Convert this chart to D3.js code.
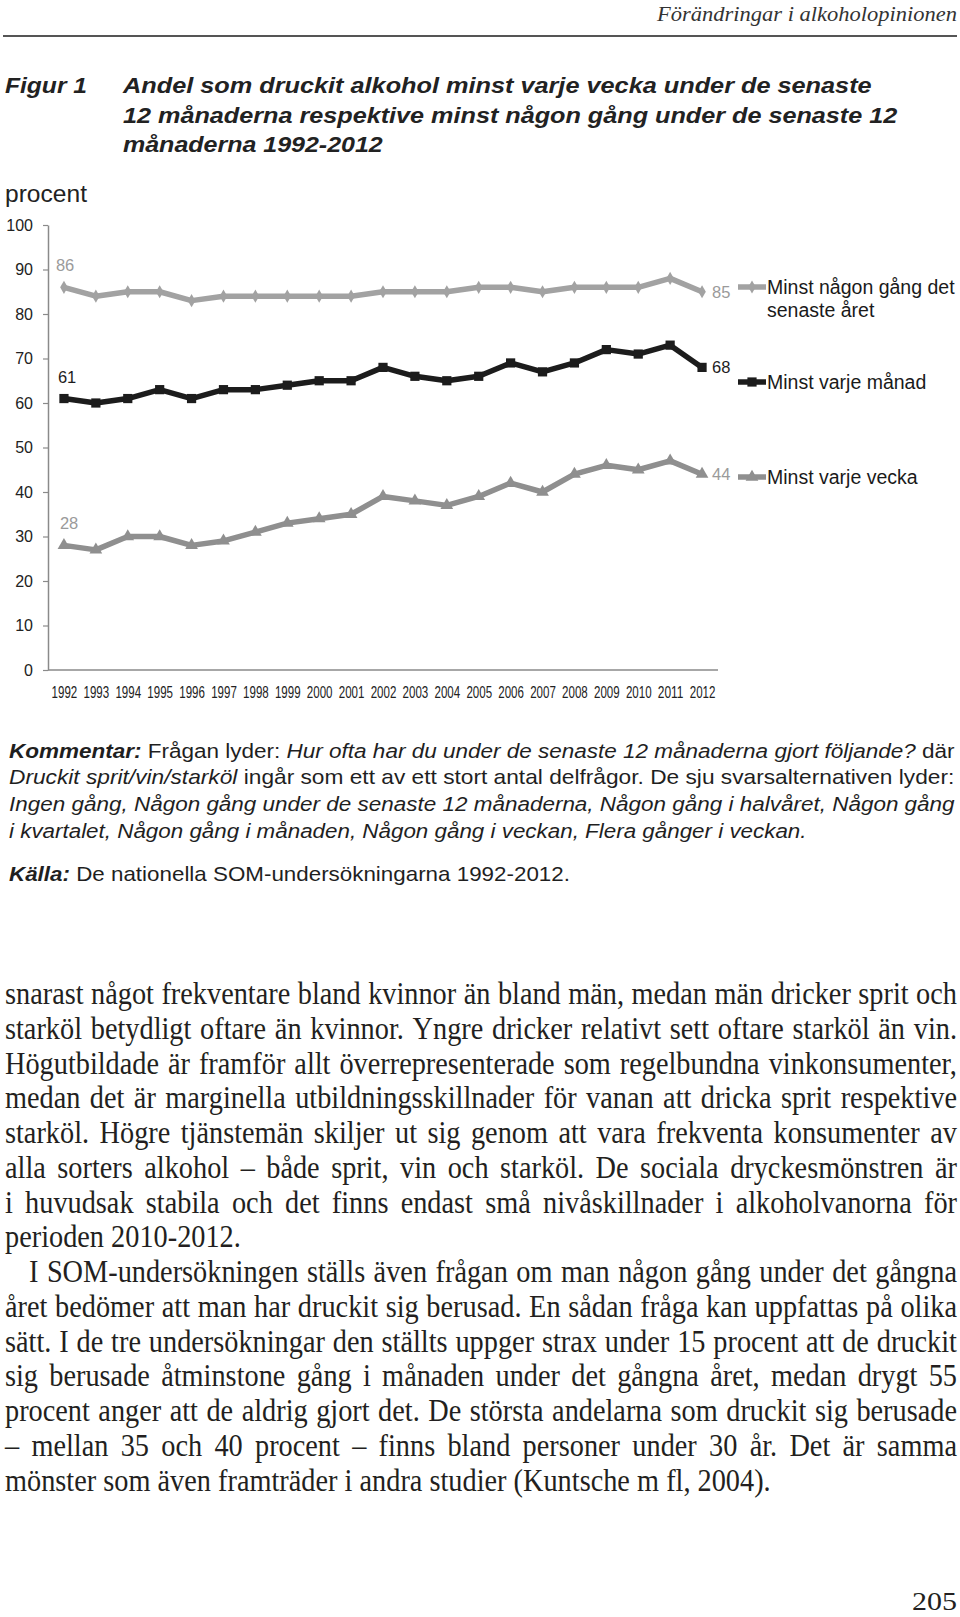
<!DOCTYPE html>
<html><head><meta charset="utf-8">
<script src="https://cdn.jsdelivr.net/npm/d3@7"></script>
<style>body{margin:0;background:#fff} svg{display:block}</style>
</head><body>
<svg id="c" width="960" height="1617"></svg>
<script>
// ---------- data ----------
const years = ["1992","1993","1994","1995","1996","1997","1998","1999","2000","2001","2002","2003","2004","2005","2006","2007","2008","2009","2010","2011","2012"];
const annual  = [86,84,85,85,83,84,84,84,84,84,85,85,85,86,86,85,86,86,86,88,85];
const monthly = [61,60,61,63,61,63,63,64,65,65,68,66,65,66,69,67,69,72,71,73,68];
const weekly  = [28,27,30,30,28,29,31,33,34,35,39,38,37,39,42,40,44,46,45,47,44];
const yTicks  = [0,10,20,30,40,50,60,70,80,90,100];
const legendLabels = [["Minst någon gång det","senaste året"],["Minst varje månad"],["Minst varje vecka"]];

const headerText = "Förändringar i alkoholopinionen";
const figLabel = "Figur 1";
const titleLines = ["Andel som druckit alkohol minst varje vecka under de senaste","12 månaderna respektive minst någon gång under de senaste 12","månaderna 1992-2012"];
const yTitle = "procent";
const commentLines = [
  [["bi","Kommentar:"],["r"," Frågan lyder: "],["i","Hur ofta har du under de senaste 12 månaderna gjort följande?"],["r"," där"]],
  [["i","Druckit sprit/vin/starköl"],["r"," ingår som ett av ett stort antal delfrågor. De sju svarsalternativen lyder:"]],
  [["i","Ingen gång, Någon gång under de senaste 12 månaderna, Någon gång i halvåret, Någon gång"]],
  [["i","i kvartalet, Någon gång i månaden, Någon gång i veckan, Flera gånger i veckan."]],
  [["bi","Källa:"],["r"," De nationella SOM-undersökningarna 1992-2012."]]
];
const bodyLines = [
  "snarast något frekventare bland kvinnor än bland män, medan män dricker sprit och",
  "starköl betydligt oftare än kvinnor. Yngre dricker relativt sett oftare starköl än vin.",
  "Högutbildade är framför allt överrepresenterade som regelbundna vinkonsumenter,",
  "medan det är marginella utbildningsskillnader för vanan att dricka sprit respektive",
  "starköl. Högre tjänstemän skiljer ut sig genom att vara frekventa konsumenter av",
  "alla sorters alkohol – både sprit, vin och starköl. De sociala dryckesmönstren är",
  "i huvudsak stabila och det finns endast små nivåskillnader i alkoholvanorna för",
  "perioden 2010-2012.",
  "I SOM-undersökningen ställs även frågan om man någon gång under det gångna",
  "året bedömer att man har druckit sig berusad. En sådan fråga kan uppfattas på olika",
  "sätt. I de tre undersökningar den ställts uppger strax under 15 procent att de druckit",
  "sig berusade åtminstone gång i månaden under det gångna året, medan drygt 55",
  "procent anger att de aldrig gjort det. De största andelarna som druckit sig berusade",
  "– mellan 35 och 40 procent – finns bland personer under 30 år. Det är samma",
  "mönster som även framträder i andra studier (Kuntsche m fl, 2004)."
];
const bodyLast = [7, 14];   // last lines of paragraphs (not justified)
const bodyIndent = [8];
const pageNumber = "205";

// ---------- setup ----------
const svg = d3.select("#c");
const SANS = "'Liberation Sans', Arial, sans-serif";
const SERIF = "'Liberation Serif', 'Times New Roman', serif";

function fit(t, x, y, target){
  const w = t.node().getComputedTextLength();
  const k = target / w;
  t.attr("x",0).attr("y",0).attr("transform",`translate(${x},${y}) scale(${k},1)`);
}

// header
const hd = svg.append("text").text(headerText)
  .attr("font-family",SERIF).attr("font-style","italic").attr("font-size",22).attr("fill","#333");
fit(hd, 657, 21, 300);
svg.append("line").attr("x1",3).attr("x2",957).attr("y1",36).attr("y2",36)
  .attr("stroke","#555").attr("stroke-width",2);

// figure label and title
const fl = svg.append("text").text(figLabel).attr("font-family",SANS).attr("font-weight","bold")
  .attr("font-style","italic").attr("font-size",22).attr("fill","#222");
fit(fl, 5, 93, 82);
const titleEnds = [872, 898, 383];
const titleBase = [93, 122.5, 152];
titleLines.forEach((s,i)=>{
  const t = svg.append("text").text(s).attr("font-family",SANS).attr("font-weight","bold")
    .attr("font-style","italic").attr("font-size",22.5).attr("fill","#222");
  fit(t, 123, titleBase[i], titleEnds[i]-123);
});
const yt = svg.append("text").text(yTitle).attr("font-family",SANS).attr("font-size",23).attr("fill","#222");
fit(yt, 5, 202, 82);

// ---------- chart ----------
const x = d3.scalePoint().domain(years).range([48,718]).padding(0.5);
const y = d3.scaleLinear().domain([0,100]).range([670,225]);
const axisColor = "#8a8a8a";

const gy = svg.append("g").attr("transform","translate(48,0)")
  .call(d3.axisLeft(y).tickValues(yTicks).tickSize(5).tickSizeOuter(0).tickPadding(10));
gy.select(".domain").attr("stroke",axisColor).attr("stroke-width",1.5);
gy.selectAll(".tick line").attr("stroke",axisColor).attr("stroke-width",1.2);
gy.selectAll(".tick text").attr("font-family",SANS).attr("font-size",16).attr("fill","#222");

const gx = svg.append("g").attr("transform","translate(0,670)")
  .call(d3.axisBottom(x).tickSize(0).tickSizeOuter(0).tickPadding(16));
gx.select(".domain").attr("stroke",axisColor).attr("stroke-width",1.5)
  .attr("d","M48,0H718");
gx.selectAll(".tick text").attr("font-family",SANS).attr("font-size",17).attr("fill","#222")
  .each(function(){
    const w = this.getComputedTextLength();
    d3.select(this).attr("transform",`scale(${25.7/w},1)`);
  });

const series = [
  {vals: annual,  color:"#a2a2a2", sym:d3.symbolDiamond, size:50, labelColor:"#9a9a9a"},
  {vals: monthly, color:"#1c1c1c", sym:d3.symbolSquare,  size:85, labelColor:"#1c1c1c"},
  {vals: weekly,  color:"#8f8f8f", sym:d3.symbolTriangle,size:70, labelColor:"#9a9a9a"}
];
const line = d3.line().x((d,i)=>x(years[i])).y(d=>y(d));
const legendY = [287, 382, 477];

series.forEach((s,si)=>{
  svg.append("path").datum(s.vals).attr("d",line).attr("fill","none")
    .attr("stroke",s.color).attr("stroke-width",5.5).attr("stroke-linejoin","round");
  svg.append("g").selectAll("path").data(s.vals).join("path")
    .attr("transform",(d,i)=>`translate(${x(years[i])},${y(d)})`)
    .attr("d",d3.symbol(s.sym, s.size)).attr("fill",s.color);
  // first and last value labels
  const first = s.vals[0], last = s.vals[s.vals.length-1];
  svg.append("text").text(first).attr("x",x(years[0])-8 + si*2).attr("y",y(first)-16)
    .attr("font-family",SANS).attr("font-size",16.5).attr("fill",s.labelColor);
  svg.append("text").text(last).attr("x",x(years[years.length-1])+10).attr("y",y(last)+6)
    .attr("font-family",SANS).attr("font-size",16.5).attr("fill",s.labelColor);
  // legend
  const ly = legendY[si];
  svg.append("line").attr("x1",738).attr("x2",766).attr("y1",ly).attr("y2",ly)
    .attr("stroke",s.color).attr("stroke-width",5.5);
  svg.append("path").attr("transform",`translate(752,${ly})`).attr("d",d3.symbol(s.sym,s.size)).attr("fill",s.color);
  legendLabels[si].forEach((txt,li)=>{
    svg.append("text").text(txt).attr("x",767).attr("y",ly+7+li*23)
      .attr("font-family",SANS).attr("font-size",19.5).attr("fill","#1a1a1a");
  });
});

// ---------- comment ----------
const commentBase = [758, 784, 811, 838, 881];
const commentEnds = [955, 955, 955, 807, 570];
commentLines.forEach((parts,i)=>{
  const t = svg.append("text").attr("font-family",SANS).attr("font-size",20).attr("fill","#1f1f1f")
    .attr("xml:space","preserve").style("white-space","pre");
  parts.forEach(([st,txt])=>{
    t.append("tspan").text(txt)
      .attr("font-weight", st==="bi" ? "bold" : "normal")
      .attr("font-style", st==="r" ? "normal" : "italic");
  });
  fit(t, 9, commentBase[i], commentEnds[i]-9);
});

// ---------- body text ----------
const measurer = svg.append("text").attr("font-family",SERIF).attr("font-size",100).attr("visibility","hidden");
function mw(s){ measurer.text(s); return measurer.node().getComputedTextLength(); }
const bodyLeft = 5, bodyRight = 957;
const vStretch = 1.1;   // taller, narrower glyphs like the book face
let fs = 100;
bodyLines.forEach((s,i)=>{
  if(bodyLast.includes(i)) return;
  const left = bodyLeft + (bodyIndent.includes(i)?24:0);
  const f = 100*(bodyRight-left)/mw(s);
  if(f < fs) fs = f;
});
fs = fs*0.995;
const spaceW = mw("a a") - mw("aa");
bodyLines.forEach((s,i)=>{
  const left = bodyLeft + (bodyIndent.includes(i)?24:0);
  const base = 1004 + i*34.76;
  const words = s.split(" ");
  const widths = words.map(w=>mw(w)*fs/100);
  const total = d3.sum(widths);
  let gap = spaceW*fs/100;
  if(!bodyLast.includes(i) && words.length>1) gap = (bodyRight-left-total)/(words.length-1);
  const t = svg.append("text").attr("font-family",SERIF).attr("font-size",fs*vStretch).attr("fill","#231f20")
    .attr("transform",`translate(0,${base}) scale(${1/vStretch},1)`).attr("y",0);
  let cx = left;
  words.forEach((w,j)=>{
    t.append("tspan").attr("x",cx*vStretch).text(w);
    cx += widths[j] + gap;
  });
});
measurer.remove();

// page number
const pn = svg.append("text").text(pageNumber).attr("font-family",SERIF).attr("font-size",26).attr("fill","#231f20");
fit(pn, 912, 1610, 45);
</script>
</body></html>
